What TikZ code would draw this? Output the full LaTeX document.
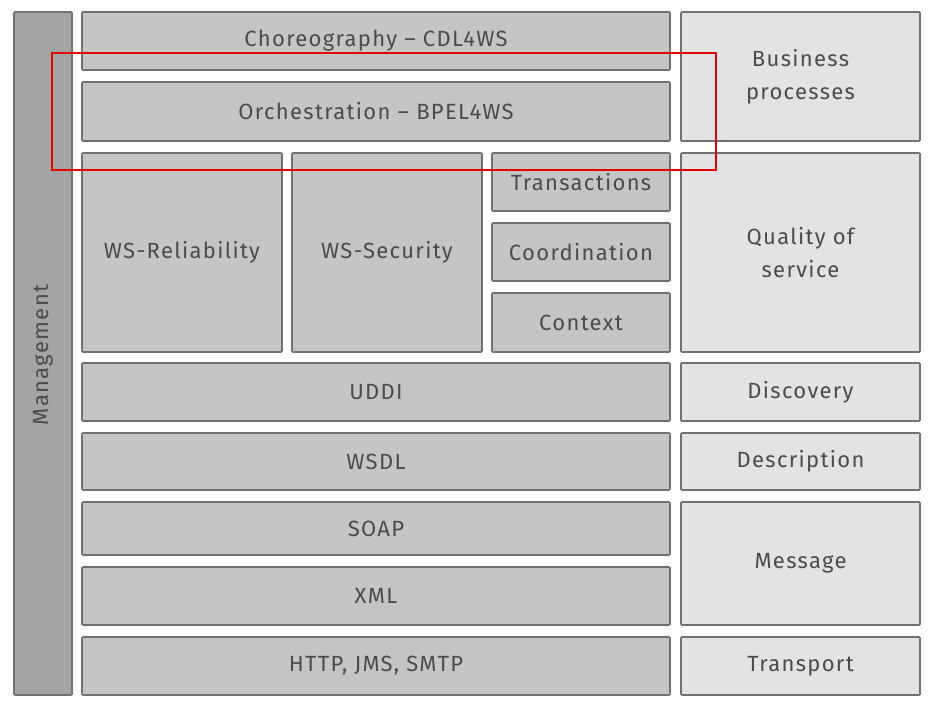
\documentclass[tikz,border=0pt]{standalone}
\usepackage{fontspec}
\setmainfont{Fira Sans}[LetterSpace=6]
\definecolor{dk}{HTML}{C4C5C7}
\definecolor{lt}{HTML}{E2E3E4}
\definecolor{mg}{HTML}{A3A4A6}
\definecolor{bd}{HTML}{707173}
\definecolor{tx}{HTML}{4A4B4D}
\newcommand{\bx}[7]{\node[#7, minimum width={#4pt-#2pt}, minimum height={#5pt-#3pt}] (#1) at ({(#2+#4)/2*1pt},{-(#3+#5)/2*1pt}) {#6};}
\begin{document}
\begin{tikzpicture}[x=1pt,y=1pt,
  base/.style={draw=bd, line width=1.6pt, rounded corners=1pt, text=tx, font=\fontsize{22}{33}\selectfont, align=center, inner sep=0pt},
  lbox/.style={base, fill=dk},
  rbox/.style={base, fill=lt},
  mbox/.style={base, fill=mg}]
\useasboundingbox (0,0) rectangle (933,-707);
\bx{mgmt}{14}{12}{72}{695}{}{mbox}
\node[rotate=90, text=tx, font=\fontsize{22}{26}\selectfont] (mgmtl) at (43,-355) {Management};
\bx{chor}{82}{12}{670}{70}{Choreography -- CDL4WS}{lbox}
\bx{orch}{82}{82}{670}{141}{Orchestration -- BPEL4WS}{lbox}
\bx{rel}{82}{153}{282}{352}{WS-Reliability}{lbox}
\bx{sec}{292}{153}{482}{352}{WS-Security}{lbox}
\bx{tra}{492}{153}{670}{211}{Transactions}{lbox}
\bx{coo}{492}{223}{670}{281}{Coordination}{lbox}
\bx{con}{492}{293}{670}{352}{Context}{lbox}
\bx{uddi}{82}{363}{670}{421}{UDDI}{lbox}
\bx{wsdl}{82}{433}{670}{490}{WSDL}{lbox}
\bx{soap}{82}{502}{670}{555}{SOAP}{lbox}
\bx{xml}{82}{567}{670}{625}{XML}{lbox}
\bx{http}{82}{637}{670}{695}{HTTP, JMS, SMTP}{lbox}
\bx{bp}{681}{12}{920}{141}{Business\\processes}{rbox}
\bx{qos}{681}{153}{920}{352}{Quality of\\service}{rbox}
\bx{disc}{681}{363}{920}{421}{Discovery}{rbox}
\bx{desc}{681}{433}{920}{490}{Description}{rbox}
\bx{msg}{681}{502}{920}{625}{Message}{rbox}
\bx{trans}{681}{637}{920}{695}{Transport}{rbox}
\draw[red!90!black, line width=2pt] (52,-53) rectangle (716,-170);
\end{tikzpicture}
\end{document}
